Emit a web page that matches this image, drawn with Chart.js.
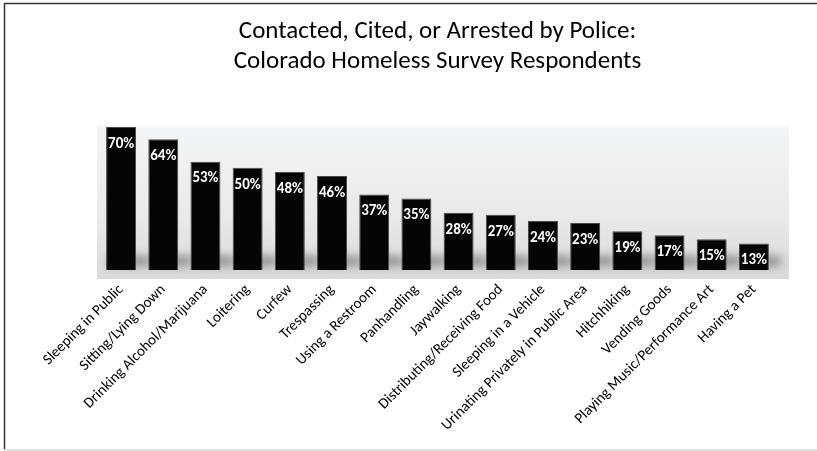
<!DOCTYPE html>
<html><head><meta charset="utf-8">
<script src="https://cdn.jsdelivr.net/npm/chart.js@4.4.1/dist/chart.umd.min.js"></script>
<style>html,body{margin:0;padding:0;background:#fff;overflow:hidden}#wrap{position:relative;width:817px;height:451px}</style>
</head><body><div id="wrap"><canvas id="c" width="817" height="451"></canvas></div>
<script>
const categories = [
  'Sleeping in Public', 'Sitting/Lying Down', 'Drinking Alcohol/Marijuana', 'Loitering',
  'Curfew', 'Trespassing', 'Using a Restroom', 'Panhandling', 'Jaywalking',
  'Distributing/Receiving Food', 'Sleeping in a Vehicle', 'Urinating Privately in Public Area',
  'Hitchhiking', 'Vending Goods', 'Playing Music/Performance Art', 'Having a Pet'
];
const percentValues = [70, 64, 53, 50, 48, 46, 37, 35, 28, 27, 24, 23, 19, 17, 15, 13];
const titleLines = ['Contacted, Cited, or Arrested by Police:', 'Colorado Homeless Survey Respondents'];

const FONT = "Carlito, Lato, 'Open Sans', sans-serif";

const frameAndBg = {
  id: 'frameAndBg',
  beforeDraw(chart) {
    const { ctx, chartArea: a } = chart;
    ctx.save();
    ctx.fillStyle = '#fff';
    ctx.fillRect(0, 0, chart.width, chart.height);
    const g = ctx.createLinearGradient(0, a.top - 1, 0, a.bottom + 9);
    g.addColorStop(0, '#f4f5f6');
    g.addColorStop(0.6, '#e9e9e9');
    g.addColorStop(1, '#dadada');
    ctx.fillStyle = g;
    ctx.fillRect(a.left - 3, a.top - 1, (a.right + 14) - (a.left - 3), (a.bottom + 9) - (a.top - 1));
    ctx.strokeStyle = '#333';
    ctx.lineWidth = 1.5;
    ctx.beginPath();
    ctx.moveTo(4.5, 449);
    ctx.lineTo(4.5, 3.5);
    ctx.lineTo(chart.width, 3.5);
    ctx.stroke();
    ctx.strokeStyle = '#e2e2e2';
    ctx.lineWidth = 2;
    ctx.beginPath();
    ctx.moveTo(4, 450);
    ctx.lineTo(chart.width, 450);
    ctx.stroke();
    ctx.restore();
  },
  beforeDatasetsDraw(chart) {
    const { ctx } = chart;
    const meta = chart.getDatasetMeta(0);
    ctx.save();
    ctx.filter = 'blur(5px)';
    ctx.fillStyle = 'rgba(40,40,40,0.45)';
    meta.data.forEach(el => {
      const w = el.width;
      ctx.fillRect(el.x - w / 2 + 2, el.base - 14, w + 10, 10);
    });
    ctx.restore();
  },
  afterDatasetsDraw(chart) {
    const { ctx } = chart;
    const meta = chart.getDatasetMeta(0);
    ctx.save();
    ctx.fillStyle = '#fff';
    ctx.font = 'bold 15px ' + FONT;
    ctx.textAlign = 'center';
    ctx.textBaseline = 'middle';
    meta.data.forEach((el, i) => {
      ctx.fillText(percentValues[i] + '%', el.x, el.y + 17);
    });
    ctx.restore();
  }
};

new Chart(document.getElementById('c'), {
  type: 'bar',
  data: {
    labels: categories,
    datasets: [{
      data: percentValues,
      backgroundColor: '#050505',
      borderColor: '#4a4a4a',
      borderWidth: 1,
      barPercentage: 0.71,
      categoryPercentage: 1
    }]
  },
  options: {
    responsive: false,
    animation: false,
    devicePixelRatio: 1,
    layout: { padding: { left: 100, right: 42, top: 0, bottom: 0 } },
    plugins: {
      legend: { display: false },
      tooltip: { enabled: false },
      title: {
        display: true,
        text: titleLines,
        color: '#000',
        font: { family: FONT, size: 25, weight: 'normal', lineHeight: 1.2 },
        padding: { top: 17, bottom: 50 }
      }
    },
    scales: {
      y: { display: false, min: 0, max: 70 },
      x: {
        grid: { display: false, drawTicks: false },
        border: { display: false },
        ticks: {
          color: '#000',
          font: { family: FONT, size: 15 },
          maxRotation: 45, minRotation: 45,
          autoSkip: false,
          padding: 11
        },
        afterFit(scale) { scale.height = 181; }
      }
    }
  },
  plugins: [frameAndBg]
});
</script>
</body></html>
